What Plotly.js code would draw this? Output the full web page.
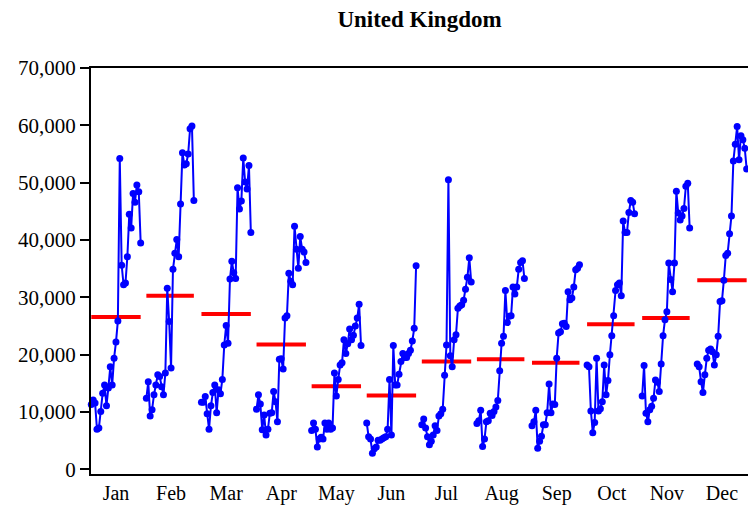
<!DOCTYPE html>
<html><head><meta charset="utf-8">
<script src="https://cdn.plot.ly/plotly-3.0.1.min.js"></script>
<style>html,body{margin:0;padding:0;background:#fff}#chart{width:748px;height:510px}</style>
</head><body><div id="chart"></div>
<script>
const months = ['Jan','Feb','Mar','Apr','May','Jun','Jul','Aug','Sep','Oct','Nov','Dec'];

const jan = [11300, 12100, 11600, 7000, 7200, 10100, 13300, 14700, 11100, 14200, 17900, 14700, 19400, 22200, 25900, 54200, 35600, 32200, 32500, 37100, 44500, 42100, 48100, 46600, 49600, 48400, 39500];
const feb = [12400, 15300, 9300, 10400, 13000, 14700, 16500, 16200, 14400, 13000, 16800, 31600, 25800, 17700, 34900, 37700, 40100, 37100, 46300, 55200, 53100, 53300, 55000, 59400, 59900, 46900];
const mar = [11700, 11700, 12700, 9700, 7000, 11100, 13400, 14700, 9900, 13900, 13200, 15700, 21700, 25100, 22000, 33200, 36300, 34300, 33300, 49100, 45400, 46800, 54300, 50100, 48900, 53000, 41300];
const apr = [10500, 13000, 11400, 6900, 9500, 6000, 7000, 9800, 9900, 13600, 11800, 8300, 19200, 19300, 17500, 26400, 26800, 34200, 32800, 32200, 42400, 38400, 35100, 40600, 38400, 37900, 36100];
const may = [6800, 8100, 7000, 3900, 5300, 5600, 5300, 8100, 7000, 8100, 7000, 7200, 16800, 12800, 15700, 18200, 18600, 22600, 20200, 21900, 24500, 22600, 23400, 25000, 26400, 28800, 21600];
const jun = [8100, 5700, 5300, 2800, 3600, 3900, 5100, 5100, 5300, 5500, 5700, 7000, 15700, 6000, 21600, 14700, 14700, 16600, 18800, 20200, 19500, 19500, 20200, 20800, 22400, 24600, 35500];
const jul = [7800, 8800, 7200, 5700, 4300, 4900, 6000, 7600, 6800, 9300, 9700, 10500, 16400, 21700, 50500, 19800, 17900, 22600, 23500, 28100, 28500, 28700, 29500, 31400, 33500, 36900, 32700];
const aug = [8000, 8500, 10300, 4000, 5300, 8300, 8500, 9800, 9400, 10100, 10900, 12000, 17200, 22000, 23200, 31200, 25600, 26700, 26800, 31800, 30600, 31800, 34900, 36100, 36400, 33300];
const sep = [7600, 8300, 10300, 3700, 4900, 5800, 7800, 7800, 9900, 14900, 9900, 11400, 11300, 19400, 23800, 24000, 25400, 25500, 24900, 31000, 29600, 29900, 31800, 34800, 35100, 35700];
const oct = [18200, 17900, 10200, 6400, 8200, 19400, 10200, 10600, 11800, 18200, 13000, 15500, 20000, 23300, 26800, 31200, 32200, 32500, 30300, 43300, 41300, 41300, 44800, 46900, 46600, 44600];
const nov = [12800, 18100, 9800, 8300, 10400, 11000, 12400, 15600, 15200, 13600, 18400, 23300, 26100, 27500, 36000, 33100, 31000, 36000, 48500, 44700, 43500, 44200, 45500, 49400, 49900, 42100];
const dec = [18400, 17900, 15300, 13400, 16500, 19400, 20800, 21000, 20500, 18200, 20000, 23200, 29300, 29400, 33000, 37300, 37700, 41100, 44200, 53800, 56700, 59800, 54000, 58200, 57500, 56000, 52400];

const monthMeans = [26600, 30300, 27100, 21800, 14500, 12900, 18800, 19200, 18600, 25300, 26400, 33000];
const yTicks = [0, 10000, 20000, 30000, 40000, 50000, 60000, 70000];

const series = [jan, feb, mar, apr, may, jun, jul, aug, sep, oct, nov, dec];
const STEP = 1 / 29;
const traces = [];

series.forEach((vals, m) => {
  traces.push({
    type: 'scatter', mode: 'lines',
    x: [m, m + (vals.length - 1) * STEP],
    y: [monthMeans[m], monthMeans[m]],
    line: { color: '#FF0000', width: 4 },
    hoverinfo: 'skip', showlegend: false, cliponaxis: false
  });
});
series.forEach((vals, m) => {
  traces.push({
    type: 'scatter', mode: 'lines+markers',
    x: vals.map((_, j) => m + j * STEP),
    y: vals,
    line: { color: '#0000FF', width: 2 },
    marker: { color: '#0000FF', size: 7 },
    hoverinfo: 'skip', showlegend: false, cliponaxis: false
  });
});

const serif = 'Liberation Serif, Times New Roman, serif';
const layout = {
  width: 748, height: 510,
  margin: { l: 91, r: 0, t: 68, b: 36, pad: 0 },
  paper_bgcolor: '#ffffff', plot_bgcolor: '#ffffff',
  showlegend: false,
  title: {
    text: '<b>United Kingdom</b>',
    font: { family: serif, size: 23, color: '#000000' },
    x: 0.5, xref: 'paper', xanchor: 'center',
    y: 0.962, yref: 'container', yanchor: 'middle'
  },
  xaxis: {
    range: [-0.005, 11.921],
    tickmode: 'array',
    tickvals: months.map((_, m) => m + 13 * STEP),
    ticktext: months,
    ticks: '',
    showline: true, linecolor: '#000000', linewidth: 2, mirror: true,
    showgrid: false, zeroline: false,
    tickfont: { family: serif, size: 20, color: '#000000' }
  },
  yaxis: {
    range: [-800, 70000],
    tickmode: 'array',
    tickvals: yTicks,
    tickformat: ',d',
    ticks: 'outside', ticklen: 9, tickwidth: 2, tickcolor: '#000000',
    showline: true, linecolor: '#000000', linewidth: 2,
    showgrid: false, zeroline: false,
    tickfont: { family: serif, size: 21, color: '#000000' }
  }
};

Plotly.newPlot('chart', traces, layout, { staticPlot: true, displayModeBar: false });
</script>
</body></html>
